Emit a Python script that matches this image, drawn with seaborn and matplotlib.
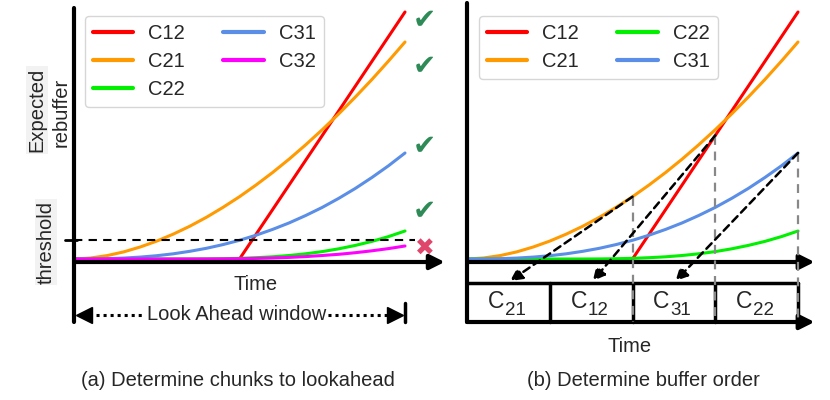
import matplotlib
matplotlib.use("Agg")
from matplotlib import pyplot as plt
import seaborn as sns
import pandas as pd

# values (time in window units, rebuffer in arbitrary units)
time = [0, 0.5, 1, 1.5, 2, 2.5, 3, 3.5, 4, 4.5, 5,
        5.5, 6, 6.5, 7, 7.5, 8, 8.5, 9, 9.5, 10]
c12 = [None] * 10 + [0, 2.47, 4.94, 7.41, 9.88, 12.35, 14.82, 17.29, 19.76, 22.23, 24.7]
c21 = [0, 0.10, 0.34, 0.71, 1.20, 1.79, 2.49, 3.28, 4.17, 5.16, 6.23,
       7.40, 8.65, 9.99, 11.42, 12.93, 14.52, 16.20, 17.95, 19.79, 21.7]
c22 = [0, 0, 0, 0, 0, 0, 0, 0.001, 0.008, 0.028, 0.065,
       0.13, 0.22, 0.35, 0.52, 0.74, 1.02, 1.36, 1.76, 2.24, 2.8]
c31 = [0, 0.006, 0.034, 0.092, 0.19, 0.33, 0.52, 0.77, 1.07, 1.44, 1.87,
       2.38, 2.96, 3.61, 4.35, 5.16, 6.07, 7.06, 8.15, 9.32, 10.6]
c32 = [0, 0, 0, 0, 0, 0, 0, 0.0005, 0.004, 0.013, 0.03,
       0.06, 0.10, 0.16, 0.24, 0.35, 0.47, 0.63, 0.82, 1.04, 1.3]

threshold = 1.9
left_chunks = ["C12", "C21", "C22", "C31", "C32"]
right_chunks = ["C12", "C21", "C22", "C31"]
colors = {"C12": "#ff0000", "C21": "#ff9a00", "C22": "#00f000",
          "C31": "#5b8ee6", "C32": "#ff00ff"}

# marks at the end of the window: check = above threshold, cross = below
mark_y = [24.2, 19.6, 11.6, 5.1]
cross_y = 1.0

buffer_order = ["21", "12", "31", "22"]
slot_edges = [0, 2.5, 5, 7.5, 10]
# (time, chunk) points picked for the buffer slots
picks = [(5, "C21"), (7.5, "C12"), (10, "C31")]

series = {"C12": c12, "C21": c21, "C22": c22, "C31": c31, "C32": c32}
rows = []
for name, vals in series.items():
    for t, v in zip(time, vals):
        if v is not None:
            rows.append({"time": t, "rebuffer": v, "chunk": name})
df = pd.DataFrame(rows)

sns.set_style("white")
plt.rcParams["font.family"] = ["Liberation Sans", "DejaVu Sans"]
FS = 14.5

fig = plt.figure(figsize=(8.3, 4), dpi=100)
ax1 = fig.add_axes([60 / 830, 70 / 400, 390 / 830, 330 / 400])
ax2 = fig.add_axes([455 / 830, 70 / 400, 375 / 830, 330 / 400])
ax1.set_xlim(-14 / 33.1, 376 / 33.1)
ax2.set_xlim(-12 / 33.1, 363 / 33.1)
for ax in (ax1, ax2):
    ax.set_ylim(-7.1, 25.9)
    ax.axis("off")

arrow_kw = dict(arrowstyle="-|>", color="k", lw=3, mutation_scale=22,
                shrinkA=0, shrinkB=0)
legend_kw = dict(ncol=2, title=None, frameon=True, borderaxespad=0,
                 handlelength=2.0, columnspacing=1.9, fontsize=FS,
                 labelspacing=0.45, handletextpad=0.75)

# ---------- (a) Determine chunks to lookahead ----------
sns.lineplot(data=df[df["chunk"].isin(left_chunks)], x="time", y="rebuffer",
             hue="chunk", hue_order=left_chunks, palette=colors, lw=2.2, ax=ax1)
ax1.plot([0, 0], [-6.3, 25.1], color="k", lw=3, clip_on=False, zorder=3)
ax1.annotate("", xy=(11.2, -0.3), xytext=(0, -0.3), arrowprops=arrow_kw, zorder=3)
ax1.plot([0, 10.3], [threshold, threshold], color="k", lw=1.5, ls=(0, (4, 3)))
ax1.plot([-0.27, 0.1], [threshold, threshold], color="k", lw=2, clip_on=False)

for y in mark_y:
    ax1.text(10.6, y - 0.3, "\u2714", color="#2e8b57", fontsize=20, ha="center",
             va="center", family="DejaVu Sans")
ax1.text(10.6, cross_y, "\u2716", color="#e0456b", fontsize=17, ha="center",
         va="center", family="DejaVu Sans")

ax1.text(5.5, -2.6, "Time", ha="center", va="center", fontsize=FS)
ax1.plot([0.45, 9.55], [-5.6, -5.6], color="k", lw=2.2, ls=(0, (1, 1.3)))
ax1.plot([0.3], [-5.6], marker="<", color="k", ms=11)
ax1.plot([9.7], [-5.6], marker=">", color="k", ms=11)
ax1.plot([10, 10], [-4.4, -6.3], color="k", lw=2.5)
ax1.text(4.9, -5.6, "Look Ahead window", ha="center", va="center", fontsize=FS,
         bbox=dict(fc="white", ec="none", pad=1))

ax1.text(-1.12, 14.9, "Expected", rotation=90, ha="center", va="center",
         fontsize=FS, bbox=dict(fc="#f2f2f2", ec="none", pad=1))
ax1.text(-0.38, 14.7, "rebuffer", rotation=90, ha="center", va="center",
         fontsize=FS)
ax1.text(-0.85, 1.7, "threshold", rotation=90, ha="center", va="center",
         fontsize=FS, bbox=dict(fc="#f2f2f2", ec="none", pad=1))

sns.move_legend(ax1, "upper left", bbox_to_anchor=(0.064, 0.952), **legend_kw)

# ---------- (b) Determine buffer order ----------
sns.lineplot(data=df[df["chunk"].isin(right_chunks)], x="time", y="rebuffer",
             hue="chunk", hue_order=right_chunks, palette=colors, lw=2.2, ax=ax2)
ax2.plot([0, 0], [-6.3, 25.6], color="k", lw=3, clip_on=False, zorder=3)
ax2.annotate("", xy=(10.5, -0.3), xytext=(0, -0.3), arrowprops=arrow_kw, zorder=3)
ax2.annotate("", xy=(10.5, -6.3), xytext=(0, -6.3), arrowprops=arrow_kw, zorder=3)
ax2.plot([0, 10], [-2.4, -2.4], color="k", lw=2.5)
for e in slot_edges[1:]:
    ax2.plot([e, e], [-2.4, -6.3], color="k", lw=2.5)
for i, lab in enumerate(buffer_order):
    mid = (slot_edges[i] + slot_edges[i + 1]) / 2
    ax2.annotate("C", xy=(mid, -4.35), xytext=(-9, -4), textcoords="offset points",
                 ha="center", va="baseline", fontsize=16.5)
    ax2.annotate(lab, xy=(mid, -4.35), xytext=(5.2, -9), textcoords="offset points",
                 ha="center", va="baseline", fontsize=13.5)

for t, name in picks:
    v = series[name][time.index(t)]
    ax2.plot([t, t], [v, -6.3], color="#888888", lw=1.6, ls=(0, (4, 3)), zorder=4)
    ax2.annotate("", xy=(t - 3.7, -2.2), xytext=(t, v),
                 arrowprops=dict(arrowstyle="-|>", color="k", lw=1.8,
                                 ls=(0, (3, 2)), mutation_scale=18,
                                 shrinkA=0, shrinkB=0), zorder=4)

sns.move_legend(ax2, "upper left", bbox_to_anchor=(0.064, 0.952), **legend_kw)

for ax in (ax1, ax2):
    for h in ax.get_legend().get_lines():
        h.set_linewidth(3)

fig.text(630 / 830, 1 - 347 / 400, "Time", ha="center", va="center", fontsize=FS)
fig.text(238 / 830, 1 - 381 / 400, "(a) Determine chunks to lookahead",
         ha="center", va="center", fontsize=FS)
fig.text(643 / 830, 1 - 381 / 400, "(b) Determine buffer order",
         ha="center", va="center", fontsize=FS)

fig.savefig("out.png", dpi=100)
